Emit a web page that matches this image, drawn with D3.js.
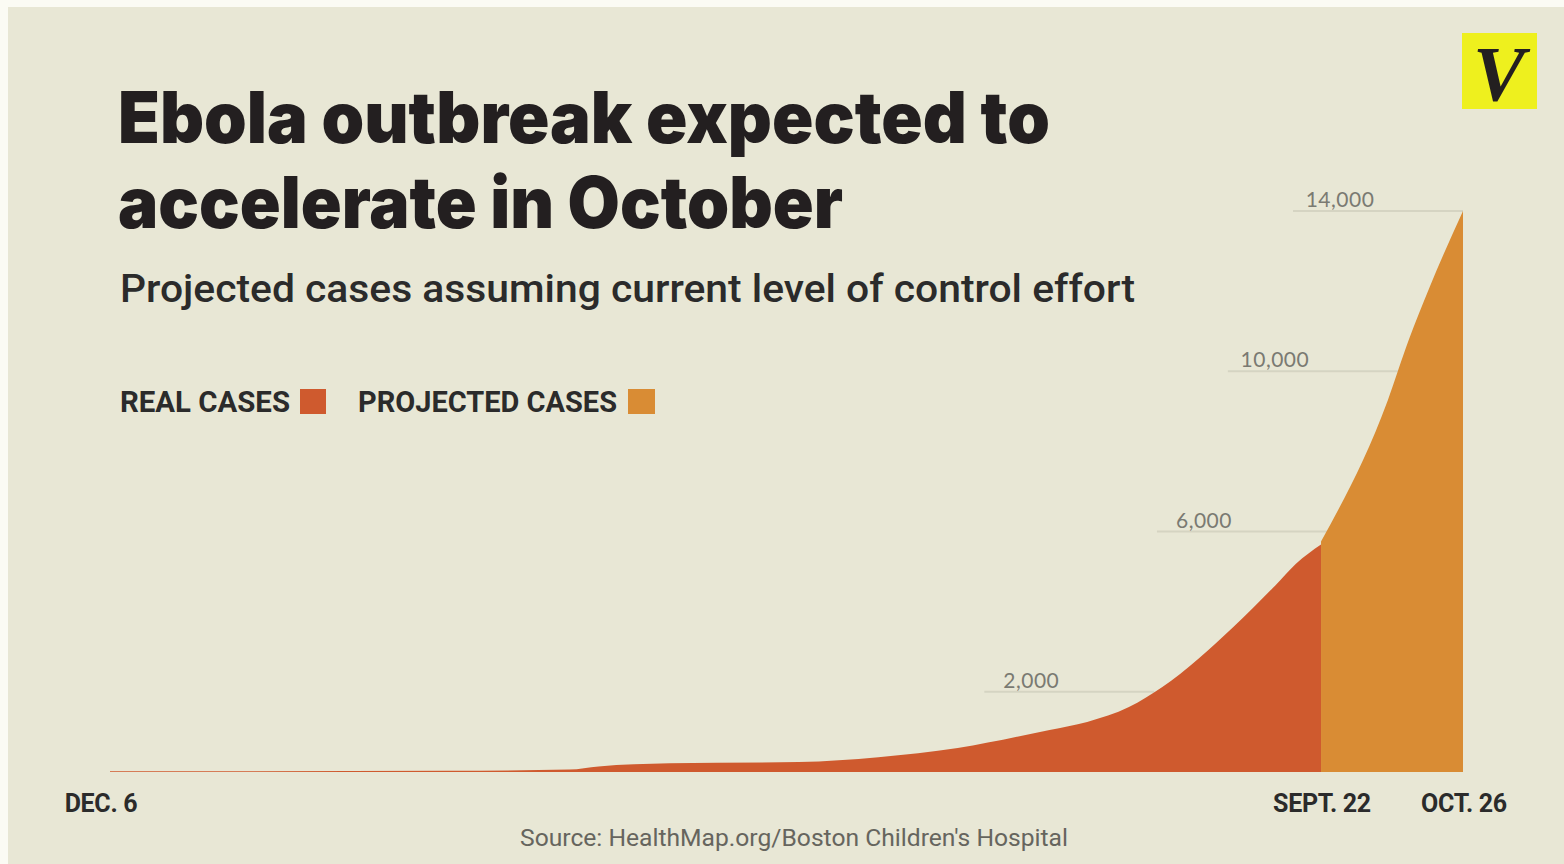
<!DOCTYPE html>
<html>
<head>
<meta charset="utf-8">
<script src="https://cdn.jsdelivr.net/npm/d3@7"></script>
<style>
  html, body { margin: 0; padding: 0; background: #fbfbf4; }
  svg { display: block; }
</style>
</head>
<body>
<svg id="chart" width="1564" height="864"></svg>
<script>
// ---- data ----
const realDates = ["2013-12-06","2014-01-08","2014-02-25","2014-03-26","2014-04-02","2014-04-19","2014-05-20","2014-06-08","2014-06-27","2014-07-19","2014-07-28","2014-08-07","2014-08-15","2014-09-01","2014-09-11","2014-09-16","2014-09-22"];
const realCases = [20,20,30,60,140,220,250,370,600,1050,1250,1620,2120,3620,4650,5200,5680];
const projDates = ["2014-09-22","2014-10-08","2014-10-13","2014-10-18","2014-10-26"];
const projCases = [5750,9280,10780,12100,14000];
const yTicks = [2000, 6000, 10000, 14000];
const xTickDates = ["2013-12-06","2014-09-22","2014-10-26"];
const xTickLabels = ["DEC. 6","SEPT. 22","OCT. 26"];
const legendLabels = ["REAL CASES","PROJECTED CASES"];

// ---- setup ----
const parse = d3.timeParse("%Y-%m-%d");
const real = realDates.map((d,i) => ({date: parse(d), v: realCases[i]}));
const proj = projDates.map((d,i) => ({date: parse(d), v: projCases[i]}));
const colReal = "#cf5a2e", colProj = "#d98c34";

const svg = d3.select("#chart");
svg.append("rect").attr("x",8).attr("y",7).attr("width",1556).attr("height",857).attr("fill","#e8e7d5");

const x = d3.scaleTime().domain([parse("2013-12-06"), parse("2014-10-26")]).range([110, 1463]);
const y = d3.scaleLinear().domain([0, 14000]).range([772, 211]);

// gridlines + labels
const all = real.concat(proj.slice(1));
function crossing(v) {
  for (let i = 1; i < all.length; i++) {
    if (all[i].v >= v) {
      const a = all[i-1], b = all[i];
      const t = (v - a.v) / (b.v - a.v);
      return x(a.date) + t * (x(b.date) - x(a.date));
    }
  }
  return x(all[all.length-1].date);
}
const fmt = d3.format(",");
const grid = svg.append("g");
yTicks.forEach(v => {
  const cx = crossing(v);
  const x0 = cx - 170;
  grid.append("line").attr("x1", x0).attr("x2", cx).attr("y1", y(v)).attr("y2", y(v))
    .attr("stroke", "#d5d4c2").attr("stroke-width", 2);
  grid.append("text").attr("x", x0 + 47).attr("y", y(v) - 4)
    .attr("text-anchor","middle").attr("font-family","Lato, 'Open Sans', sans-serif")
    .attr("font-size", 21).attr("fill","#7a7a72").attr("letter-spacing", 0.5).text(fmt(v));
});

// areas
const area = d3.area().x(d => x(d.date)).y0(y(0)).y1(d => y(d.v)).curve(d3.curveMonotoneX);
svg.append("path").datum(real).attr("d", area).attr("fill", colReal);
svg.append("path").datum(proj).attr("d", area).attr("fill", colProj);

// x labels
xTickDates.forEach((d,i) => {
  svg.append("text").attr("x", x(parse(d)) + (i===0 ? -9 : 1)).attr("y", 812)
    .attr("text-anchor","middle")
    .attr("font-family","'Liberation Sans Narrow', 'Roboto', sans-serif").attr("font-weight","bold")
    .attr("font-size", 25).attr("fill","#2b2b2b").attr("letter-spacing",-0.3).text(xTickLabels[i]);
});

// title
const title = svg.append("g").attr("font-family","Inter, Roboto, sans-serif").attr("font-weight",900).attr("fill","#231f20");
title.append("text").attr("x",118).attr("y",143).attr("font-size",71).attr("textLength",932).attr("lengthAdjust","spacingAndGlyphs").text("Ebola outbreak expected to");
title.append("text").attr("x",118).attr("y",228).attr("font-size",71).attr("textLength",725).attr("lengthAdjust","spacingAndGlyphs").text("accelerate in October");

svg.append("text").attr("x",120).attr("y",302).attr("font-family","Roboto, Inter, sans-serif").attr("font-weight",500)
  .attr("font-size",38).attr("fill","#2b2b2b").attr("textLength",1015).attr("lengthAdjust","spacingAndGlyphs")
  .text("Projected cases assuming current level of control effort");

// legend
const lg = svg.append("g").attr("font-family","'Liberation Sans Narrow', 'Roboto', sans-serif").attr("font-weight","bold").attr("font-size",30).attr("fill","#2b2b2b");
lg.append("text").attr("x",120).attr("y",412).attr("textLength",170).attr("lengthAdjust","spacingAndGlyphs").text(legendLabels[0]);
lg.append("rect").attr("x",300).attr("y",389).attr("width",26).attr("height",25).attr("fill",colReal);
lg.append("text").attr("x",358).attr("y",412).attr("textLength",259).attr("lengthAdjust","spacingAndGlyphs").text(legendLabels[1]);
lg.append("rect").attr("x",628).attr("y",389).attr("width",27).attr("height",25).attr("fill",colProj);

// source
svg.append("text").attr("x",794).attr("y",846).attr("text-anchor","middle")
  .attr("font-family","Roboto, Inter, sans-serif").attr("font-size",23).attr("fill","#66655e")
  .attr("textLength",548).attr("lengthAdjust","spacingAndGlyphs")
  .text("Source: HealthMap.org/Boston Children's Hospital");

// logo
svg.append("rect").attr("x",1462).attr("y",33).attr("width",75).attr("height",76).attr("fill","#eef01e");
svg.append("text").attr("x",1499).attr("y",100).attr("text-anchor","middle")
  .attr("font-family","'Liberation Serif', 'DejaVu Serif', serif").attr("font-weight","bold").attr("font-style","italic")
  .attr("font-size",78).attr("fill","#231f20").text("V");
</script>
</body>
</html>
